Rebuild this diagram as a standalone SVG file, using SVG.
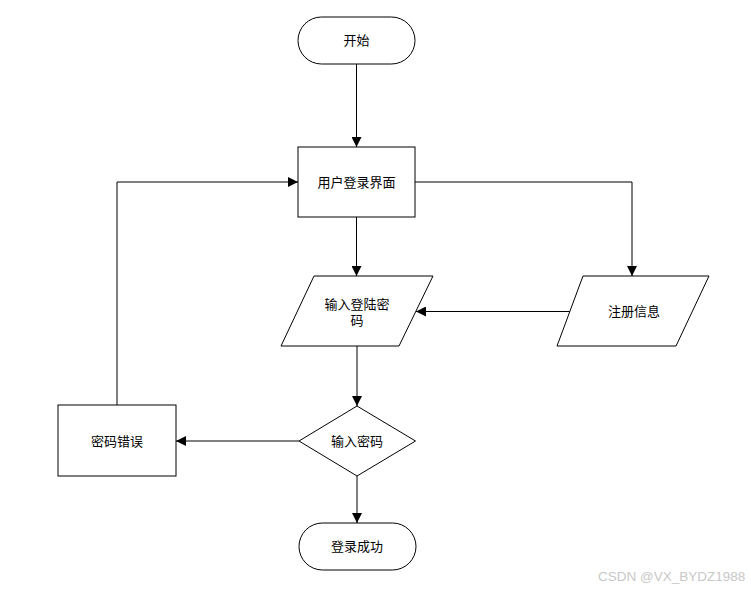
<svg xmlns="http://www.w3.org/2000/svg" width="751" height="589" viewBox="0 0 751 589">
<style>
.s{fill:#fff;stroke:#000;stroke-width:1}
.t{font-family:"Liberation Sans","Noto Sans CJK SC",sans-serif;font-size:13px;fill:#000;text-anchor:middle;dominant-baseline:central}
.c{fill:none;stroke:#000;stroke-width:1}
.w{font-family:"Liberation Sans","Noto Sans CJK SC",sans-serif;font-size:13.5px;fill:#c8c8c8}
</style>
<defs>
<marker id="a" viewBox="0 0 10 10" refX="10" refY="5" markerWidth="10" markerHeight="10" markerUnits="userSpaceOnUse" orient="auto">
<path d="M0,0 L10,5 L0,10 Z" fill="#000"/>
</marker>
</defs>
<rect width="751" height="589" fill="#fff"/>
<g id="connectors">
<path class="c" d="M356.5,64 V147" marker-end="url(#a)"/>
<path class="c" d="M356.5,217 V276" marker-end="url(#a)"/>
<path class="c" d="M415,182 H632 V276" marker-end="url(#a)"/>
<path class="c" d="M575,311.5 H416" marker-end="url(#a)"/>
<path class="c" d="M357,346 V406" marker-end="url(#a)"/>
<path class="c" d="M299,441 H176" marker-end="url(#a)"/>
<path class="c" d="M117,405 V182 H298" marker-end="url(#a)"/>
<path class="c" d="M357,476 V523" marker-end="url(#a)"/>
</g>
<g id="start">
<rect class="s" x="298" y="17" width="117" height="47" rx="23.5"/>
<text class="t" x="356.5" y="40.5">开始</text>
</g>
<g id="login">
<rect class="s" x="298" y="147" width="117" height="70"/>
<text class="t" x="356.5" y="182">用户登录界面</text>
</g>
<g id="input">
<polygon class="s" points="314,276 433,276 399,346 281,346"/>
<text class="t" x="357" y="304">输入登陆密</text>
<text class="t" x="357" y="320">码</text>
</g>
<g id="register">
<polygon class="s" points="583,276 709,276 676,346 557,346"/>
<text class="t" x="634" y="311">注册信息</text>
</g>
<g id="check">
<polygon class="s" points="357,406 415.5,441 357,476 299,441"/>
<text class="t" x="357" y="441">输入密码</text>
</g>
<g id="error">
<rect class="s" x="58" y="405" width="118" height="71"/>
<text class="t" x="117" y="441">密码错误</text>
</g>
<g id="end">
<rect class="s" x="299" y="523" width="117" height="47" rx="23.5"/>
<text class="t" x="357" y="546.5">登录成功</text>
</g>
<text class="w" x="598" y="581">CSDN @VX_BYDZ1988</text>
</svg>
